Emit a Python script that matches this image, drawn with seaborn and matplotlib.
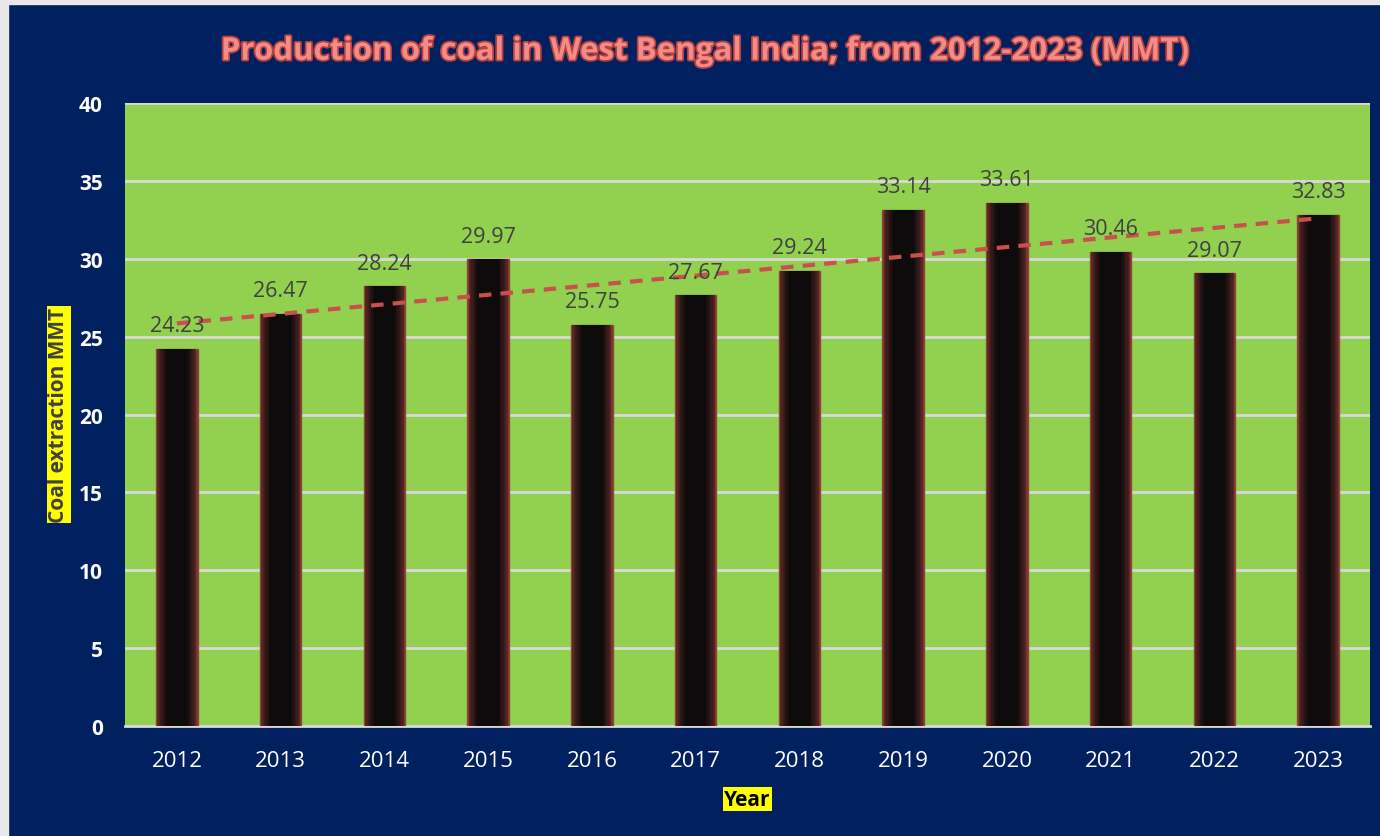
import numpy as np
import pandas as pd
import seaborn as sns
import matplotlib.pyplot as plt
import matplotlib.patheffects as pe
from matplotlib.colors import to_rgb
from matplotlib.patches import Rectangle

years = ['2012', '2013', '2014', '2015', '2016', '2017', '2018', '2019', '2020', '2021', '2022', '2023']
production = [24.23, 26.47, 28.24, 29.97, 25.75, 27.67, 29.24, 33.14, 33.61, 30.46, 29.07, 32.83]
y_ticks = [0, 5, 10, 15, 20, 25, 30, 35, 40]

navy = '#002060'
green = '#92D050'

df = pd.DataFrame({'year': years, 'mmt': production})

sns.set_style('white')
plt.rcParams['font.family'] = ['Open Sans', 'DejaVu Sans']

fig = plt.figure(figsize=(13.8, 8.37), dpi=100)
fig.patch.set_facecolor(navy)
ax = fig.add_axes([0.0906, 0.1314, 0.9022, 0.7443])
ax.set_facecolor(green)

# light frame at top/left edge like the original screenshot
fig.add_artist(Rectangle((0, 0.994), 1, 0.006, transform=fig.transFigure, color='#e8e8e8', zorder=0))
fig.add_artist(Rectangle((0, 0), 0.006, 1, transform=fig.transFigure, color='#e8e8e8', zorder=0))

# bars with a reddish glow towards the edges: stack narrower, darker bars
outer = np.array(to_rgb('#7a3230'))
inner = np.array(to_rgb('#0d0b0b'))
n = 9
for k in range(n):
    t = (k / (n - 1)) ** 0.6
    w = 0.40 - 0.20 * k / (n - 1)
    c = tuple(outer * (1 - t) + inner * t)
    sns.barplot(data=df, x='year', y='mmt', ax=ax, color=c, width=w, saturation=1,
                edgecolor='#8a4a38' if k == 0 else c, linewidth=1 if k == 0 else 0, zorder=3)

# linear trendline
xs = np.arange(len(years))
coef = np.polyfit(xs, production, 1)
ax.plot(xs, np.polyval(coef, xs), linestyle=(0, (3, 2.2)), color='#C9504D', lw=3, zorder=5)

for i, v in enumerate(production):
    ax.annotate(f'{v:.2f}', (i, v), xytext=(0, 9), textcoords='offset points',
                ha='center', va='bottom', fontsize=15.5, color='#404040', zorder=6)

ax.set_ylim(0, 40)
ax.set_xlim(-0.5, len(years) - 0.5)
ax.set_yticks(y_ticks)
ax.yaxis.grid(True, color='#D9D9D9', lw=2, zorder=1)
ax.set_axisbelow(True)
for s in ['top', 'right', 'left']:
    ax.spines[s].set_visible(False)
ax.spines['bottom'].set_color('#D9D9D9')
ax.spines['bottom'].set_linewidth(2)

ax.tick_params(axis='y', colors='white', labelsize=15, length=0, pad=16)
ax.tick_params(axis='x', colors='white', labelsize=16, length=0, pad=17)
for t in ax.get_yticklabels():
    t.set_fontweight('bold')

ax.set_xlabel('Year', fontsize=15, fontweight='bold', color='black', labelpad=13,
              bbox=dict(facecolor='yellow', edgecolor='none', pad=1))
ax.set_ylabel('Coal extraction MMT', fontsize=15, fontweight='bold', color='#404040', labelpad=7,
              bbox=dict(facecolor='yellow', edgecolor='none', pad=1))

fig.text(0.511, 0.937, 'Production of coal in West Bengal India; from 2012-2023 (MMT)',
         ha='center', va='center', fontsize=22.5, fontweight='bold', color='#F28C88',
         path_effects=[pe.withStroke(linewidth=2.5, foreground='#B8403C')])

fig.savefig('out.png', dpi=100, facecolor=navy)
